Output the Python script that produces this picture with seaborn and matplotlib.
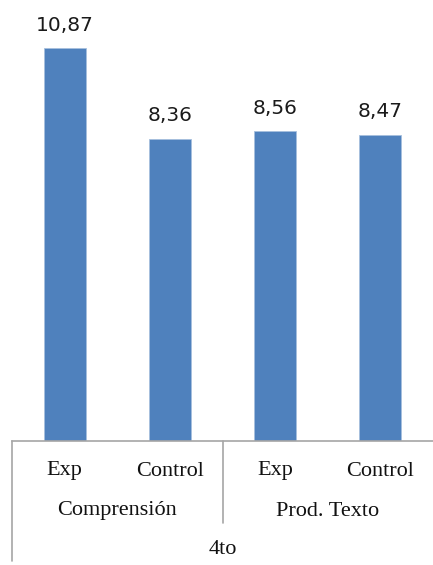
import matplotlib
matplotlib.use("Agg")
import matplotlib.pyplot as plt
import seaborn as sns
import pandas as pd

# data
keys = ["comp_exp", "comp_ctrl", "prod_exp", "prod_ctrl"]
tick_labels = ["Exp", "Control", "Exp", "Control"]
groups = ["Comprensión", "Prod. Texto"]
outer_label = "4to"
values = [10.87, 8.36, 8.56, 8.47]
value_labels = ["10,87", "8,36", "8,56", "8,47"]

df = pd.DataFrame({"key": keys, "value": values})

sns.set_style("white")
fig = plt.figure(figsize=(4.33, 5.65), dpi=100)
W, H = 433, 565
ax = fig.add_axes([12 / W, (H - 441) / H, 1 - 12 / W, (441 - 7) / H])

sns.barplot(data=df, x="key", y="value", order=keys, color="#4F81BD",
            width=0.4, saturation=1, ax=ax)
for p in ax.patches:
    p.set_edgecolor("#A7C0DE")
    p.set_linewidth(0.6)

ax.set_ylim(0, 12)
ax.set_xlim(-0.5, 3.5)
ax.set_xlabel("")
ax.set_ylabel("")
ax.set_yticks([])
ax.set_xticks([])
for s in ["top", "right", "left"]:
    ax.spines[s].set_visible(False)
ax.spines["bottom"].set_color("#A6A6A6")
ax.spines["bottom"].set_linewidth(1.2)

# value labels above bars
for i, (v, lab) in enumerate(zip(values, value_labels)):
    ax.annotate(lab, (i, v), xytext=(0, 9.5), textcoords="offset points",
                ha="center", va="bottom", fontsize=14.5, family="DejaVu Sans",
                color="#1a1a1a")

# multi-level category axis
tr = ax.get_xaxis_transform()
ah = 441 - 7
serif = "Liberation Serif"
for i, lab in enumerate(tick_labels):
    ax.text(i, -30 / ah, lab, transform=tr, ha="center", va="center",
            fontsize=16, family=serif, color="#111111")
for g, lab in enumerate(groups):
    ax.text(2 * g + 0.5, -70 / ah, lab, transform=tr, ha="center",
            va="center", fontsize=16, family=serif, color="#111111")
ax.text(1.5, -108 / ah, outer_label, transform=tr, ha="center", va="center",
        fontsize=16, family=serif, color="#111111")

# separator lines
line_kw = dict(transform=tr, color="#A6A6A6", lw=1.2, clip_on=False)
ax.plot([-0.5, -0.5], [0, -120 / ah], **line_kw)
ax.plot([1.5, 1.5], [0, -82 / ah], **line_kw)

fig.savefig("out.png", dpi=100)
